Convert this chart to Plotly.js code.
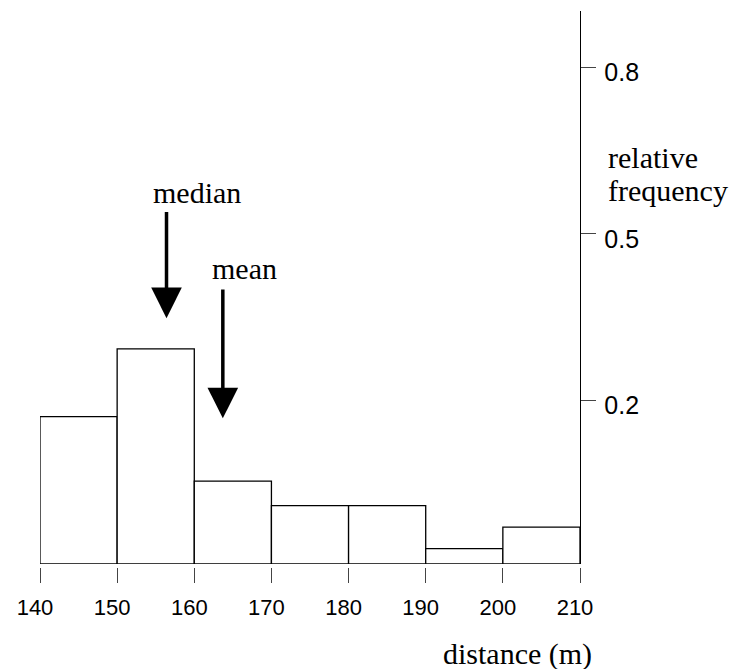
<!DOCTYPE html>
<html>
<head>
<meta charset="utf-8">
<script src="https://cdn.plot.ly/plotly-3.0.1.min.js"></script>
<style>html,body{margin:0;padding:0;background:#fff;}#chart{width:734px;height:669px;}</style>
</head>
<body>
<div id="chart"></div>
<script>
// Histogram bins (distance, m) and relative frequencies
var binStarts = [140, 150, 160, 170, 180, 190, 200];
var binWidth = 10;
var relFreq = [0.24, 0.35, 0.135, 0.095, 0.095, 0.025, 0.06];

// Axis tick labels
var xTickVals = [140, 150, 160, 170, 180, 190, 200, 210];
var yTickVals = [0.2, 0.5, 0.8];

// Marked statistics (distance, m) and arrow tip heights (relative frequency)
var statNames = ['median', 'mean'];
var statX = [156.4, 163.7];
var statTipY = [0.400, 0.237];

var serif = 'Liberation Serif, Times New Roman, serif';
var sans = 'Liberation Sans, Arial, Helvetica, sans-serif';

var traces = [{
  type: 'bar',
  x: binStarts,
  y: relFreq,
  width: binWidth,
  offset: 0,
  marker: {color: '#ffffff', line: {color: '#000000', width: 1.3}},
  hoverinfo: 'x+y',
  showlegend: false
}, {
  // carries the labelled frequency axis on the right
  type: 'scatter', mode: 'markers', x: [], y: [],
  xaxis: 'x', yaxis: 'y2', hoverinfo: 'skip', showlegend: false
}];

var annotations = [];
var arrowLen = [107.6, 130.3];
statNames.forEach(function (name, i) {
  annotations.push({
    x: statX[i], y: statTipY[i], xref: 'x', yref: 'y',
    ax: 0, ay: -arrowLen[i], axref: 'pixel', ayref: 'pixel',
    text: '', showarrow: true, arrowhead: 2, arrowsize: 1.75, arrowwidth: 3.5,
    arrowcolor: '#000000', standoff: 0
  });
});
annotations.push({text: 'median', xref: 'paper', yref: 'paper', x: 0.2902, y: 0.6732,
  xanchor: 'center', yanchor: 'middle', showarrow: false, font: {family: serif, size: 30, color: '#000'}});
annotations.push({text: 'mean', xref: 'paper', yref: 'paper', x: 0.3796, y: 0.536,
  xanchor: 'center', yanchor: 'middle', showarrow: false, font: {family: serif, size: 30, color: '#000'}});
annotations.push({text: 'relative', xref: 'paper', yref: 'paper', x: 1.0481, y: 0.7362,
  xanchor: 'left', yanchor: 'middle', showarrow: false, font: {family: serif, size: 30, color: '#000'}});
annotations.push({text: 'frequency', xref: 'paper', yref: 'paper', x: 1.0481, y: 0.6763,
  xanchor: 'left', yanchor: 'middle', showarrow: false, font: {family: serif, size: 30, color: '#000'}});
annotations.push({text: 'distance (m)', xref: 'paper', yref: 'paper', x: 0.8843, y: -0.157,
  xanchor: 'center', yanchor: 'middle', showarrow: false, font: {family: serif, size: 30, color: '#000'}});

var layout = {
  width: 734, height: 669,
  margin: {l: 40, r: 154, t: 11, b: 102, pad: 0},
  paper_bgcolor: '#ffffff', plot_bgcolor: '#ffffff',
  showlegend: false,
  bargap: 0,
  xaxis: {
    range: [140, 210], tickmode: 'array', tickvals: xTickVals,
    showline: false, showgrid: false, zeroline: false,
    ticks: 'outside', ticklen: 15, tickwidth: 1, tickcolor: '#444',
    tickfont: {family: sans, size: 22, color: '#000'},
    ticklabelstandoff: 6, ticklabelshift: -5,
    anchor: 'free', position: 0, fixedrange: true
  },
  yaxis: {
    range: [0, 0.9], domain: [0.0054, 1], visible: false, fixedrange: true
  },
  yaxis2: {
    overlaying: 'y', side: 'right', anchor: 'x',
    range: [-0.0936, 0.9007], tickmode: 'array', tickvals: yTickVals,
    showline: true, linecolor: '#000', linewidth: 1.3,
    showgrid: false, zeroline: false,
    ticks: 'outside', ticklen: 15, tickwidth: 1, tickcolor: '#444',
    tickfont: {family: sans, size: 25, color: '#000'},
    ticklabelstandoff: 3, ticklabelshift: 5, fixedrange: true
  },
  annotations: annotations
};

Plotly.newPlot('chart', traces, layout, {displayModeBar: false, staticPlot: true});
</script>
</body>
</html>
